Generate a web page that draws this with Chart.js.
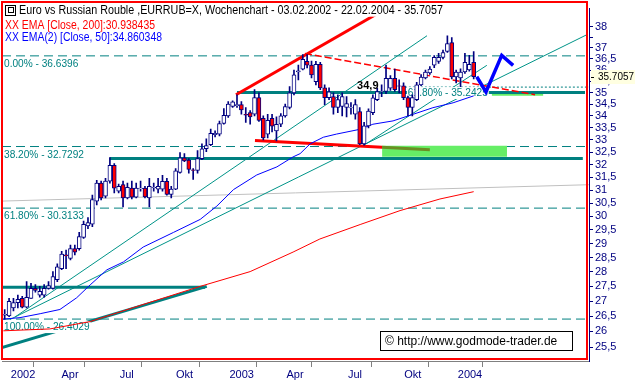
<!DOCTYPE html>
<html>
<head>
<meta charset="utf-8">
<script src="https://cdn.jsdelivr.net/npm/chart.js@4.4.1/dist/chart.umd.min.js"></script>
<style>
  html, body { margin: 0; padding: 0; background: #fff; }
</style>
</head>
<body>
<canvas id="chart" width="635" height="382"></canvas>
<script>
'use strict';

// weekly candles, 03.02.2002 - 22.02.2004 (x = week number)
const opens = [
    26.53, 26.51, 26.77, 26.95, 27.09, 26.80, 27.09, 27.43, 27.20, 27.20,
    27.43, 27.43, 27.73, 28.11, 28.60, 28.47, 28.82, 28.82, 29.23, 29.65,
    29.71, 30.58, 31.27, 30.77, 31.35, 31.97, 30.96, 31.21, 30.70, 31.08,
    30.73, 31.06, 31.08, 30.70, 31.09, 31.04, 31.04, 31.34, 30.83, 31.04,
    31.69, 32.27, 32.18, 31.79, 31.77, 32.24, 32.64, 32.80, 33.22, 33.24,
    33.68, 34.00, 34.41, 34.44, 34.48, 34.07, 34.14, 34.07, 34.78, 33.90,
    33.24, 33.90, 33.37, 33.65, 34.00, 34.36, 34.99, 35.91, 36.04, 36.39,
    36.22, 35.48, 36.26, 35.21, 34.78, 34.83, 34.36, 34.40, 34.36, 34.34,
    34.07, 34.18, 32.84, 33.58, 34.14, 34.70, 35.05, 35.05, 35.19, 35.63,
    35.30, 35.30, 34.78, 34.36, 34.70, 35.34, 35.65, 35.87, 36.22, 36.39,
    36.57, 36.84, 37.25, 35.69, 35.65, 35.91, 36.00, 36.35
];
const highs = [
    26.72, 27.09, 27.09, 27.20, 27.16, 27.66, 27.60, 27.56, 27.50, 27.56,
    27.66, 28.01, 28.28, 28.73, 28.77, 28.95, 28.95, 29.41, 29.83, 29.96,
    30.81, 31.38, 31.35, 31.46, 32.28, 32.04, 31.23, 31.35, 31.27, 31.35,
    31.27, 31.35, 31.15, 31.46, 31.27, 31.46, 31.58, 31.46, 31.15, 31.84,
    32.48, 32.44, 32.24, 31.84, 32.56, 32.84, 33.04, 33.45, 33.37, 33.78,
    34.31, 34.61, 34.64, 34.91, 34.61, 34.36, 34.23, 35.13, 34.99, 34.00,
    34.07, 34.07, 33.96, 34.10, 34.50, 35.26, 36.00, 36.22, 36.70, 36.70,
    36.40, 36.39, 36.35, 35.34, 35.21, 34.99, 34.91, 34.99, 34.83, 34.57,
    34.70, 34.36, 33.73, 34.30, 34.90, 35.20, 35.34, 36.22, 35.75, 36.04,
    35.56, 35.43, 34.85, 34.90, 35.45, 35.80, 36.00, 36.15, 36.65, 36.76,
    36.90, 37.57, 37.48, 36.00, 36.05, 36.76, 36.66, 36.84
];
const lows = [
    26.40, 26.48, 26.67, 26.77, 26.77, 26.77, 27.09, 27.30, 27.13, 27.13,
    27.40, 27.40, 27.66, 28.08, 28.11, 28.42, 28.60, 28.77, 29.19, 29.55,
    29.62, 30.43, 30.62, 30.70, 31.27, 30.89, 30.89, 30.36, 30.66, 30.66,
    30.70, 30.96, 30.70, 30.36, 30.96, 30.89, 30.96, 30.81, 30.70, 31.02,
    31.66, 32.12, 31.66, 31.42, 31.66, 32.20, 32.52, 32.76, 33.12, 33.16,
    33.65, 33.94, 34.36, 34.36, 34.07, 33.73, 33.65, 34.00, 33.77, 33.00,
    33.08, 33.33, 32.96, 33.55, 33.95, 34.30, 34.90, 35.56, 36.00, 36.09,
    35.65, 35.34, 35.13, 34.48, 34.70, 34.07, 34.14, 34.00, 33.96, 34.07,
    33.86, 32.80, 32.78, 33.50, 34.05, 34.65, 34.83, 34.95, 35.10, 35.05,
    34.99, 34.70, 34.00, 34.00, 34.65, 35.30, 35.60, 35.80, 36.10, 36.30,
    36.50, 36.80, 35.60, 35.43, 35.26, 35.85, 35.95, 35.60
];
const closes = [
    26.56, 26.99, 26.95, 27.06, 26.80, 27.13, 27.43, 27.36, 27.33, 27.43,
    27.53, 27.84, 28.18, 28.63, 28.56, 28.82, 28.70, 29.26, 29.71, 29.77,
    30.64, 31.27, 30.70, 31.35, 31.97, 31.08, 31.15, 30.70, 31.11, 30.73,
    31.08, 31.08, 30.74, 31.15, 31.11, 31.15, 31.34, 30.83, 31.04, 31.75,
    32.27, 32.15, 31.81, 31.77, 32.24, 32.64, 32.77, 33.27, 33.27, 33.68,
    34.03, 34.51, 34.60, 34.48, 34.25, 34.03, 33.96, 34.78, 33.81, 33.08,
    33.81, 33.57, 33.65, 34.00, 34.40, 34.99, 35.78, 35.96, 36.48, 36.22,
    35.78, 36.26, 35.21, 34.78, 35.04, 34.36, 34.70, 34.83, 34.53, 34.36,
    34.48, 32.84, 33.58, 34.21, 34.77, 35.05, 35.07, 35.63, 35.63, 35.13,
    35.28, 34.78, 34.36, 34.78, 35.34, 35.69, 35.91, 36.04, 36.57, 36.57,
    36.79, 37.20, 35.69, 35.91, 35.91, 36.35, 36.26, 35.7057
];

// moving averages [week, value]
const ema200 = [[-0.3, 26.02], [10.3, 26.08], [19.5, 26.32], [29.3, 26.78], [44.6, 27.50],
    [56.0, 28.01], [65.8, 28.70], [71.9, 29.17], [81.1, 29.70], [90.2, 30.22],
    [99.3, 30.66], [107, 30.94]];
const ema50 = [[-0.4, 26.40], [3.5, 26.45], [8.1, 26.58], [12.6, 26.72], [16.4, 27.11],
    [19.5, 27.55], [23.3, 28.07], [27.1, 28.35], [31.6, 28.88], [38.5, 29.41],
    [44.6, 29.89], [48.4, 30.39], [52.2, 31.02], [57.5, 31.59], [62.1, 31.91],
    [65.8, 32.31], [67.4, 32.44], [69.7, 32.84], [72.7, 33.11], [75.7, 33.24],
    [81.1, 33.44], [84.0, 33.65], [88.6, 33.79], [93.2, 34.07], [97.7, 34.35],
    [102.3, 34.56], [107, 34.86]];

// fibonacci retracement
const fibPercents = ['0.00%', '38.20%', '61.80%', '100.00%'];
const fibLevels = [36.6396, 32.7292, 30.3133, 26.4029];
const fib2Percent = '61.80%';
const fib2Level = 35.2425;
const fib2Start = 91.3;

// drawn lines [week, price]
const grayLine = [[-0.62, 30.58], [133.3, 31.21]];
const fanLines = [
    [[2.35, 26.47], [96.35, 37.57]],
    [[1.21, 26.39], [132.85, 37.62]],
    [[81.75, 32.76], [110.0, 36.21]]
];
const supportLines = [
    [[53.0, 35.01], [132.4, 35.01]],
    [[24.0, 32.24], [131.9, 32.24]],
    [[-0.6, 27.47], [45.7, 27.47]],
    [[-0.62, 25.48], [46.1, 27.50]]
];
const redUpper = [[52.77, 34.91], [86.77, 38.83]];
const redDashed = [[68.51, 36.75], [120.99, 34.91]];
const redLower = [[57.1, 32.98], [86.1, 32.70]];
const oliveLower = [[86.1, 32.70], [97.0, 32.60]];
const greenBoxes = [
    {from: 86.1, to: 114.6, top: 32.76, bottom: 32.32},
    {from: 111.1, to: 122.9, top: 35.03, bottom: 34.87}
];
const forecast = [[107.7, 35.70], [109.8, 35.03], [113.4, 36.66], [116.0, 36.21]];

// axes
const priceTicks = [25.5, 26, 26.5, 27, 27.5, 28, 28.5, 29, 29.5, 30, 30.5, 31, 31.5,
    32, 32.5, 33, 33.5, 34, 34.5, 35, 35.5, 36, 36.5, 37, 37.5, 38];
const quarterTicks = [8.74, 21.74, 34.75, 47.75, 60.99, 73.76, 87.22, 100.23];
const periodTicks = [4.18, 14.90, 27.83, 41.02, 54.07, 66.24, 79.93, 93.09, 106.16];
const periodLabels = ['2002', 'Apr', 'Jul', 'Okt', '2003', 'Apr', 'Jul', 'Okt', '2004'];

const X_MIN = -0.616;
const X_MAX = 133.31;
const FONT = 'Arial, "Liberation Sans", sans-serif';
const TEAL = '#008080';
const NAVY = '#000080';


function pts(list) {
    return list.map((p) => ({x: p[0], y: p[1]}));
}

function lineSet(data, color, width, order, extra) {
    return Object.assign({
        type: 'line',
        data: pts(data),
        borderColor: color,
        borderWidth: width,
        pointRadius: 0,
        fill: false,
        tension: 0,
        order: order,
    }, extra || {});
}

function fmtPrice(v) {
    if (v === 37.5) {
        return '';
    }
    return String(v).replace('.', ',');
}

let datasets = [];

datasets.push(lineSet(grayLine, '#c0c0c0', 1, 100));

fibLevels.forEach((lvl) => {
    datasets.push(lineSet([[X_MIN, lvl], [X_MAX, lvl]], TEAL, 1, 95, {borderDash: [9, 5]}));
});
datasets.push(lineSet([[fib2Start, fib2Level], [X_MAX, fib2Level]], TEAL, 1, 95, {borderDash: [2, 2]}));

greenBoxes.forEach((b) => {
    datasets.push(lineSet([[b.from, b.top], [b.to, b.top]], 'rgba(0,0,0,0)', 0, 90, {
        fill: {value: b.bottom},
        backgroundColor: '#66ee66',
    }));
});

fanLines.forEach((l) => {
    datasets.push(lineSet(l, '#009488', 1, 85));
});

supportLines.forEach((l) => {
    datasets.push(lineSet(l, TEAL, 3, 80));
});

datasets.push(lineSet(redUpper, '#ff0000', 3, 60));
datasets.push(lineSet(redLower, '#ff0000', 3, 60));
datasets.push(lineSet(oliveLower, '#6b8e23', 3, 60));
datasets.push(lineSet(redDashed, '#ff0000', 1.5, 60, {borderDash: [7, 3]}));

datasets.push(lineSet(ema200, '#ff0000', 1, 50));
datasets.push(lineSet(ema50, '#0000ff', 1, 50));

datasets.push({
    type: 'bar',
    data: highs.map((h, i) => ({x: i, y: [lows[i], h]})),
    backgroundColor: NAVY,
    barThickness: 1,
    grouped: false,
    order: 20,
});
datasets.push({
    type: 'bar',
    data: opens.map((o, i) => ({x: i, y: [o, closes[i]]})),
    backgroundColor: opens.map((o, i) => closes[i] < o ? '#ff0000' : '#ffffff'),
    borderColor: NAVY,
    borderWidth: 1,
    borderSkipped: false,
    barThickness: 4,
    grouped: false,
    order: 10,
});

datasets.push(lineSet(forecast, '#0000ff', 3.5, 5));


function labelBox(ctx, text, x, y, color, squeeze) {
    ctx.font = '11.5px ' + FONT;
    let w = ctx.measureText(text).width * squeeze;
    ctx.fillStyle = '#ffffff';
    ctx.fillRect(x - 1, y - 6, w + 2, 12);
    ctx.fillStyle = color;
    ctx.textBaseline = 'middle';
    ctx.textAlign = 'left';
    ctx.fillText(text, x, y, w);
}

function drawLevelLabels(chart) {
    let ctx = chart.ctx;
    let xs = chart.scales.x;
    let ys = chart.scales.y;
    ctx.save();
    fibLevels.forEach((lvl, i) => {
        let y = ys.getPixelForValue(lvl) + 8;
        labelBox(ctx, fibPercents[i] + ' - ' + lvl.toFixed(4), chart.chartArea.left + 2, y, TEAL, 0.88);
    });
    labelBox(ctx, fib2Percent + ' - ' + fib2Level.toFixed(4), xs.getPixelForValue(fib2Start) + 3,
        ys.getPixelForValue(fib2Level) + 6, TEAL, 0.88);
    ctx.restore();
}

const decorations = {
    id: 'decorations',
    beforeDraw(chart) {
        let ctx = chart.ctx;
        ctx.save();
        ctx.fillStyle = '#ffffff';
        ctx.fillRect(0, 0, chart.width, chart.height);
        ctx.restore();
    },
    beforeDatasetsDraw(chart) {
        chart.$labelsDone = false;
    },
    beforeDatasetDraw(chart, args) {
        if (!chart.$labelsDone && args.meta.order <= 70) {
            drawLevelLabels(chart);
            chart.$labelsDone = true;
        }
    },
    afterDatasetsDraw(chart) {
        let ctx = chart.ctx;
        let xs = chart.scales.x;
        let ys = chart.scales.y;
        ctx.save();
        ctx.font = 'bold 11px ' + FONT;
        ctx.fillStyle = '#000000';
        ctx.textBaseline = 'middle';
        ctx.fillText('34,9', xs.getPixelForValue(80.4), ys.getPixelForValue(35.3));
        ctx.restore();
    },
    afterDraw(chart) {
        let ctx = chart.ctx;
        let area = chart.chartArea;
        let ys = chart.scales.y;
        ctx.save();

        // red frame
        ctx.strokeStyle = '#ff0000';
        ctx.lineWidth = 2;
        ctx.strokeRect(2, 2, area.right - 4, area.bottom - 4);

        // titles
        ctx.textBaseline = 'middle';
        ctx.font = '12px ' + FONT;
        let titles = [
            ['Euro vs Russian Rouble ,EURRUB=X, Wochenchart - 03.02.2002 - 22.02.2004 - 35.7057', 19, 10.7, '#000000', 424],
            ['XX EMA [Close, 200]:30.938435', 5, 25.2, '#ff0000', 150],
            ['XX EMA(2) [Close, 50]:34.860348', 5, 37.7, '#0000ff', 157],
        ];
        titles.forEach((t) => {
            ctx.fillStyle = '#ffffff';
            ctx.fillRect(t[1] - 1, t[2] - 6, t[4] + 2, 12);
            ctx.fillStyle = t[3];
            ctx.fillText(t[0], t[1], t[2], t[4]);
        });
        ctx.strokeStyle = '#000000';
        ctx.lineWidth = 1;
        ctx.strokeRect(5.5, 5.5, 10, 10);
        ctx.strokeRect(8.5, 7.5, 5, 5);

        // last price box
        let last = closes[closes.length - 1];
        let py = Math.round(ys.getPixelForValue(last));
        ctx.fillStyle = '#ffffe1';
        ctx.fillRect(591, py - 7, 44, 14);
        ctx.fillStyle = '#000000';
        ctx.fillRect(591, py, 3, 1);
        ctx.font = '11px ' + FONT;
        ctx.fillText(String(last), 598, py, 36);

        // copyright
        ctx.fillStyle = '#ffffff';
        ctx.fillRect(380.5, 331.5, 192, 19);
        ctx.strokeStyle = '#000000';
        ctx.strokeRect(380.5, 331.5, 192, 19);
        ctx.fillStyle = '#000000';
        ctx.font = '12px ' + FONT;
        ctx.fillText('\u00a9 http://www.godmode-trader.de', 385, 341.5, 182);
        ctx.restore();
    }
};

new Chart(document.getElementById('chart'), {
    type: 'bar',
    data: {datasets: datasets},
    plugins: [decorations],
    options: {
        responsive: false,
        animation: false,
        devicePixelRatio: 1,
        layout: {padding: {left: 2, top: 1, right: 0, bottom: 0}, autoPadding: false},
        plugins: {legend: {display: false}, tooltip: {enabled: false}},
        scales: {
            x: {
                type: 'linear',
                min: X_MIN,
                max: X_MAX,
                offset: false,
                afterBuildTicks: (scale) => {
                    let t = quarterTicks.map((v) => ({value: v}))
                        .concat(periodTicks.map((v) => ({value: v})));
                    t.sort((a, b) => a.value - b.value);
                    scale.ticks = t;
                },
                afterFit: (scale) => { scale.height = 21; },
                grid: {
                    drawOnChartArea: false,
                    tickLength: 6,
                    tickColor: (ctx) => (ctx.tick && periodTicks.indexOf(ctx.tick.value) >= 0) ? 'rgba(0,0,0,0)' : '#808080',
                },
                border: {color: '#808080'},
                ticks: {
                    autoSkip: false,
                    maxRotation: 0,
                    padding: 1,
                    color: NAVY,
                    font: {size: 11, family: FONT},
                    callback: (v) => {
                        let k = periodTicks.indexOf(v);
                        return k >= 0 ? periodLabels[k] : '';
                    },
                },
            },
            y: {
                type: 'logarithmic',
                position: 'right',
                min: 25.06,
                max: 38.86,
                afterBuildTicks: (scale) => { scale.ticks = priceTicks.map((v) => ({value: v})); },
                afterFit: (scale) => { scale.width = 46; },
                grid: {drawOnChartArea: false, tickLength: 4, tickColor: NAVY},
                border: {display: true, color: NAVY, dash: [1, 2]},
                ticks: {
                    autoSkip: false,
                    padding: 2,
                    color: NAVY,
                    font: {size: 11, family: FONT},
                    callback: (v) => fmtPrice(v),
                },
            },
        },
    },
});
</script>
</body>
</html>
